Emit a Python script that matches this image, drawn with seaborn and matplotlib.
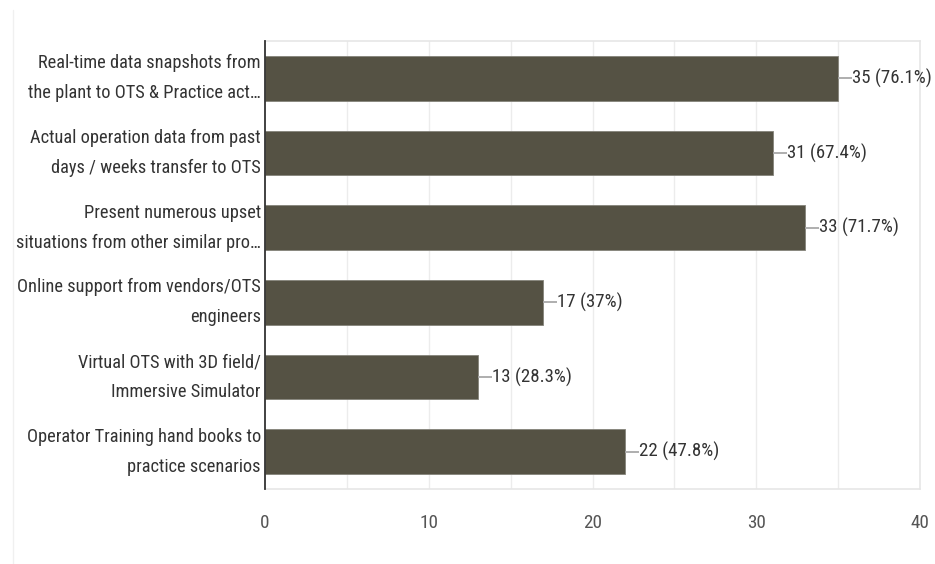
import matplotlib
matplotlib.use("Agg")
import matplotlib.pyplot as plt
import seaborn as sns
import pandas as pd
from matplotlib.lines import Line2D

categories = [
    "Real-time data snapshots from\nthe plant to OTS & Practice act\u2026",
    "Actual operation data from past\ndays / weeks transfer to OTS",
    "Present numerous upset\nsituations from other similar pro\u2026",
    "Online support from vendors/OTS\nengineers",
    "Virtual OTS with 3D field/\nImmersive Simulator",
    "Operator Training hand books to\npractice scenarios",
]
counts = [35, 31, 33, 17, 13, 22]
percents = ["76.1%", "67.4%", "71.7%", "37%", "28.3%", "47.8%"]
x_ticks = [0, 10, 20, 30, 40]

sns.set_theme(style="white")
plt.rcParams["font.family"] = ["Roboto Condensed", "DejaVu Sans"]

df = pd.DataFrame({"option": categories, "count": counts})

fig = plt.figure(figsize=(9.35, 5.64), dpi=100)
ax = fig.add_axes([265 / 935, 1 - 489 / 564, (920 - 265) / 935, (489 - 41) / 564])

sns.barplot(data=df, y="option", x="count", orient="h", color="#555244",
            width=0.6, saturation=1, edgecolor="#85837a", linewidth=0.6, ax=ax, zorder=3)

ax.set_xlim(0, 40)
ax.set_ylim(5.5, -0.5)
for gx in range(5, 40, 5):
    ax.axvline(gx, color="#ececec", linewidth=1, zorder=0)

FS = 13.2
ax.set_xticks(x_ticks)
ax.set_xticklabels([str(t) for t in x_ticks], fontsize=FS + 0.6, color="#555555")
ax.tick_params(axis="x", length=0, pad=18)
ax.tick_params(axis="y", length=0, pad=3)
for lbl in ax.get_yticklabels():
    lbl.set_fontsize(FS)
    lbl.set_color("#333333")
    lbl.set_horizontalalignment("right")
    lbl.set_verticalalignment("center")
    lbl.set_multialignment("right")
    lbl.set_linespacing(1.85)
ax.set_xlabel("")
ax.set_ylabel("")

for side in ("top", "right", "bottom"):
    ax.spines[side].set_color("#e6e6e6")
    ax.spines[side].set_linewidth(1.2)
ax.spines["left"].set_color("#333333")
ax.spines["left"].set_linewidth(1.3)
ax.spines["left"].set_zorder(5)

# value callouts: short leader line from bar end, then "n (pct)"
for i, (c, p) in enumerate(zip(counts, percents)):
    ax.plot([c, c + 0.85], [i, i], color="#a8a8a8", linewidth=1.3, zorder=4,
            solid_capstyle="butt")
    ax.text(c + 0.85, i, f"{c} ({p})", va="center", ha="left",
            fontsize=FS + 0.4, color="#333333")

# faint left edge of the surrounding card
fig.lines.append(Line2D([13 / 935, 13 / 935], [0, 1 - 10 / 564],
                        transform=fig.transFigure, color="#f0f0f0", linewidth=1))

fig.savefig("out.png", dpi=100)
